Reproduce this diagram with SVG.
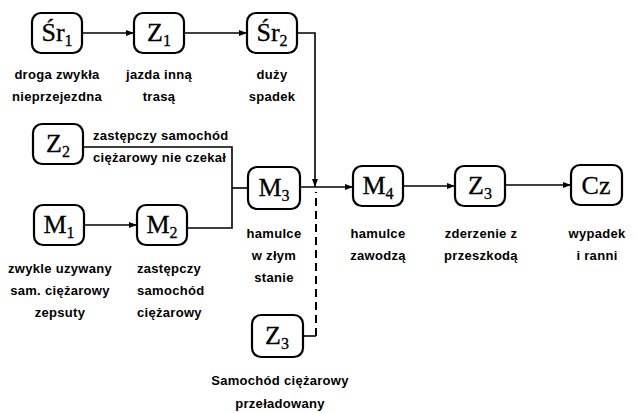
<svg xmlns="http://www.w3.org/2000/svg" width="637" height="413" viewBox="0 0 637 413">
<style>
.box{fill:#fff;stroke:#000;stroke-width:2.2}
.sym{font-family:"Liberation Serif",serif;font-size:26px;fill:#000;text-anchor:middle;stroke:#000;stroke-width:0.3}
.sub{font-size:16px}
.lbl{font-family:"Liberation Sans",Arial,sans-serif;font-size:13px;font-weight:bold;fill:#000;letter-spacing:0.3px}
.c{text-anchor:middle}
.ln{fill:none;stroke:#000;stroke-width:1.6}
.dash{fill:none;stroke:#000;stroke-width:2;stroke-dasharray:8,5}
</style>
<defs>
<marker id="ah" markerWidth="8" markerHeight="6" refX="8" refY="3" orient="auto" markerUnits="userSpaceOnUse">
<path d="M0,0 L8,3 L0,6 Z" fill="#000"/>
</marker>
</defs>
<rect width="637" height="413" fill="#fff"/>
<g id="connectors">
<line class="ln" x1="82" y1="33" x2="134" y2="33" marker-end="url(#ah)"/>
<line class="ln" x1="184" y1="33" x2="247" y2="33" marker-end="url(#ah)"/>
<polyline class="ln" points="297,33 315,33 315,187" marker-end="url(#ah)"/>
<polyline class="ln" points="83,147 232,147 232,228 187,228"/>
<line class="ln" x1="232" y1="188" x2="248" y2="188"/>
<line class="ln" x1="84" y1="225" x2="137" y2="225" marker-end="url(#ah)"/>
<line class="ln" x1="300" y1="187" x2="353" y2="187" marker-end="url(#ah)"/>
<line class="ln" x1="403" y1="186" x2="455" y2="186" marker-end="url(#ah)"/>
<line class="ln" x1="505" y1="185" x2="571" y2="185" marker-end="url(#ah)"/>
<line class="ln" x1="303" y1="336" x2="316" y2="336"/>
<line class="dash" x1="316" y1="336" x2="316" y2="192"/>
</g>
<g id="Sr1">
<rect class="box" x="32" y="13" width="50" height="40" rx="9"/>
<text class="sym" x="57" y="41">Śr<tspan class="sub" dy="5">1</tspan></text>
<text class="lbl c" x="57" y="79">droga zwykła</text>
<text class="lbl c" x="57" y="101">nieprzejezdna</text>
</g>
<g id="Z1">
<rect class="box" x="134" y="13" width="50" height="40" rx="9"/>
<text class="sym" x="159" y="41">Z<tspan class="sub" dy="5">1</tspan></text>
<text class="lbl c" x="159" y="79">jazda inną</text>
<text class="lbl c" x="159" y="101">trasą</text>
</g>
<g id="Sr2">
<rect class="box" x="247" y="13" width="50" height="40" rx="9"/>
<text class="sym" x="272" y="41">Śr<tspan class="sub" dy="5">2</tspan></text>
<text class="lbl c" x="272" y="79">duży</text>
<text class="lbl c" x="272" y="101">spadek</text>
</g>
<g id="Z2">
<rect class="box" x="33" y="124" width="50" height="40" rx="9"/>
<text class="sym" x="58" y="152">Z<tspan class="sub" dy="5">2</tspan></text>
<text class="lbl" x="93" y="140">zastępczy samochód</text>
<text class="lbl" x="93" y="162">ciężarowy nie czekał</text>
</g>
<g id="M1">
<rect class="box" x="34" y="205" width="50" height="40" rx="9"/>
<text class="sym" x="59" y="233">M<tspan class="sub" dy="5">1</tspan></text>
<text class="lbl c" x="60" y="273">zwykle uzywany</text>
<text class="lbl c" x="60" y="295">sam. ciężarowy</text>
<text class="lbl c" x="60" y="317">zepsuty</text>
</g>
<g id="M2">
<rect class="box" x="137" y="205" width="50" height="40" rx="9"/>
<text class="sym" x="162" y="233">M<tspan class="sub" dy="5">2</tspan></text>
<text class="lbl" x="137" y="273">zastępczy</text>
<text class="lbl" x="137" y="295">samochód</text>
<text class="lbl" x="137" y="317">ciężarowy</text>
</g>
<g id="M3">
<rect class="box" x="248" y="167" width="52" height="42" rx="9"/>
<text class="sym" x="274" y="196">M<tspan class="sub" dy="5">3</tspan></text>
<text class="lbl c" x="274" y="238">hamulce</text>
<text class="lbl c" x="274" y="260">w złym</text>
<text class="lbl c" x="274" y="282">stanie</text>
</g>
<g id="M4">
<rect class="box" x="353" y="166" width="50" height="40" rx="9"/>
<text class="sym" x="378" y="194">M<tspan class="sub" dy="5">4</tspan></text>
<text class="lbl c" x="378" y="238">hamulce</text>
<text class="lbl c" x="378" y="260">zawodzą</text>
</g>
<g id="Z3">
<rect class="box" x="455" y="166" width="50" height="40" rx="9"/>
<text class="sym" x="480" y="194">Z<tspan class="sub" dy="5">3</tspan></text>
<text class="lbl c" x="481" y="238">zderzenie z</text>
<text class="lbl c" x="481" y="260">przeszkodą</text>
</g>
<g id="Cz">
<rect class="box" x="571" y="165" width="51" height="40" rx="9"/>
<text class="sym" x="596" y="194">Cz</text>
<text class="lbl c" x="597" y="238">wypadek</text>
<text class="lbl c" x="597" y="260">i ranni</text>
</g>
<g id="Z3b">
<rect class="box" x="252" y="315" width="51" height="42" rx="9"/>
<text class="sym" x="277" y="344">Z<tspan class="sub" dy="5">3</tspan></text>
<text class="lbl c" x="280" y="385">Samochód ciężarowy</text>
<text class="lbl c" x="280" y="408">przeładowany</text>
</g>
</svg>
